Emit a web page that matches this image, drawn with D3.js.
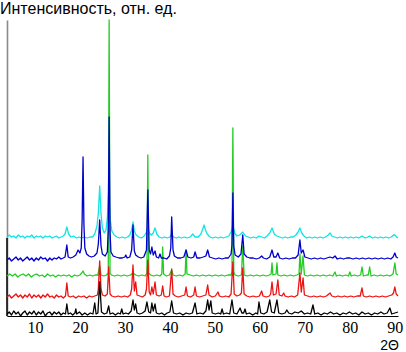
<!DOCTYPE html>
<html><head><meta charset="utf-8">
<script src="https://cdn.jsdelivr.net/npm/d3@7"></script>
<style>body{margin:0;background:#fff}svg{display:block}</style>
</head><body><svg id="c" width="406" height="352"></svg>
<script>
// ---- data (2θ, intensity relative to the curve's own baseline) ----
const xTicks = [10, 20, 30, 40, 50, 60, 70, 80, 90];
const yTitle = "Интенсивность, отн. ед.";
const xTitle = "2Θ";
const seriesOrder = ["cyan", "green", "blue", "red", "black"];
const seriesOffsets = [78, 40, 56, 19, 2];

const blackSeries = [[3.8,0],[4.3,2],[4.8,-1],[5.3,3],[5.8,0],[6.3,2],[6.8,-2],[7.3,1],[7.8,3],[8.3,-1],[8.8,2],[9.3,0],[9.8,3],[10.3,-1],[10.8,2],[11.3,0],[11.8,3],[12.3,-2],[12.8,1],[13.3,2],[13.8,-1],[14.3,2],[14.8,0],[15.3,2],[15.8,-1],[16.3,1],[16.8,0],[17.1,10],[17.4,0],[17.9,1],[18.4,-1],[18.9,1],[19.1,5],[19.3,0],[19.9,2],[20.5,-1],[21.1,1],[21.7,-1],[22.3,1],[22.9,0],[23.3,11],[23.6,0],[24.0,1],[24.4,32],[24.8,2],[25.4,0],[26.0,1],[26.4,8],[26.7,0],[27.3,1],[27.9,-1],[28.5,1],[29.0,0],[29.3,5],[29.6,0],[30.2,1],[30.8,0],[31.4,3],[31.8,14],[32.1,4],[32.4,10],[32.7,1],[33.3,0],[33.9,1],[34.5,3],[34.9,12],[35.3,2],[35.7,1],[36.0,11],[36.3,3],[36.7,10],[37.0,1],[37.6,0],[38.2,1],[38.8,-1],[39.4,1],[40.0,2],[40.4,13],[40.8,1],[41.5,0],[42.2,1],[42.9,-1],[43.6,1],[44.3,0],[45.0,1],[45.6,11],[46.0,0],[46.7,1],[47.4,0],[48.0,3],[48.4,14],[48.7,4],[49.1,13],[49.4,1],[50.1,0],[50.8,1],[51.3,0],[51.6,5],[51.9,0],[52.6,1],[53.3,0],[53.8,14],[54.2,1],[54.9,0],[55.6,6],[56.0,1],[56.4,1],[56.7,5],[57.0,0],[57.7,1],[58.4,-1],[59.1,1],[59.5,0],[59.8,12],[60.2,1],[60.9,0],[61.6,2],[62.2,14],[62.6,2],[63.2,1],[63.8,14],[64.2,1],[64.9,0],[65.6,1],[66.0,4],[66.4,1],[67.1,0],[67.8,2],[68.5,1],[69.2,3],[69.9,0],[70.6,1],[71.3,0],[71.8,9],[72.2,0],[72.9,1],[73.6,-1],[74.3,1],[75.0,0],[75.7,2],[76.4,0],[77.1,1],[77.8,-1],[78.5,1],[79.2,0],[79.9,2],[80.6,0],[81.3,1],[82.0,-1],[82.7,2],[83.4,0],[84.1,1],[84.8,-1],[85.5,1],[86.2,0],[86.9,2],[87.6,0],[88.3,1],[88.9,6],[89.3,0],[90.0,1],[90.7,2]];

const redSeries = [[3.8,0],[4.3,2],[4.8,-1],[5.3,1],[5.8,3],[6.3,0],[6.8,2],[7.3,-1],[7.8,2],[8.3,0],[8.8,3],[9.3,-1],[9.8,2],[10.3,0],[10.8,2],[11.3,-1],[11.8,2],[12.3,0],[12.8,3],[13.3,0],[13.8,1],[14.3,-1],[14.8,2],[15.3,0],[15.8,1],[16.3,-1],[16.8,1],[17.1,14],[17.4,1],[17.9,0],[18.5,1],[19.1,-1],[19.7,1],[20.3,0],[20.9,1],[21.5,-1],[22.1,1],[22.7,0],[23.3,1],[23.9,2],[24.1,8],[24.4,36],[24.7,8],[25.0,2],[25.6,1],[26.1,3],[26.4,30],[26.7,3],[27.1,1],[27.8,0],[28.5,1],[29.2,0],[29.9,1],[30.6,0],[31.2,2],[31.5,8],[31.8,32],[32.1,6],[32.4,15],[32.7,2],[33.3,1],[33.9,0],[34.5,2],[34.8,8],[35.1,37],[35.4,5],[35.7,2],[36.0,10],[36.3,3],[36.7,15],[37.0,2],[37.6,1],[38.1,2],[38.4,11],[38.7,1],[39.3,0],[39.9,1],[40.4,28],[40.7,3],[41.2,1],[41.9,0],[42.6,1],[43.3,2],[43.6,10],[43.9,1],[44.6,0],[45.3,2],[45.6,10],[45.9,1],[46.6,0],[47.3,1],[48.0,2],[48.4,12],[48.7,2],[49.4,0],[50.1,1],[50.7,5],[51.0,1],[51.7,0],[52.4,1],[53.1,0],[53.6,3],[54.0,35],[54.3,3],[54.9,1],[55.5,2],[55.9,4],[56.2,29],[56.5,3],[57.1,1],[57.8,0],[58.5,1],[59.2,0],[59.9,1],[60.4,6],[60.7,1],[61.4,0],[62.1,1],[62.4,3],[62.7,15],[63.0,2],[63.6,3],[64.0,17],[64.3,2],[64.9,1],[65.3,4],[65.6,1],[66.3,0],[67.0,1],[67.7,0],[68.4,2],[68.9,24],[69.2,5],[69.6,19],[69.9,2],[70.6,1],[71.3,0],[72.0,1],[72.7,0],[73.4,1],[74.1,0],[74.8,1],[75.6,4],[76.0,1],[76.7,0],[77.4,1],[78.1,0],[78.8,1],[79.5,0],[80.2,1],[80.9,0],[81.6,1],[82.3,1],[82.7,9],[83.0,1],[83.7,0],[84.4,1],[85.1,0],[85.8,1],[86.5,0],[87.2,1],[87.9,0],[88.6,1],[89.3,2],[89.7,4],[90.0,10],[90.3,3],[90.7,1]];

const greenSeries = [[3.8,0],[4.4,2],[5.0,0],[5.6,2],[6.2,-1],[6.8,1],[7.4,2],[8.0,0],[8.6,2],[9.2,-1],[9.8,1],[10.4,2],[11.0,0],[11.6,1],[12.2,-1],[12.8,2],[13.4,0],[14.0,1],[14.6,-1],[15.2,1],[15.8,0],[16.4,1],[17.0,0],[17.6,1],[18.2,-1],[18.8,1],[19.4,0],[20.0,1],[20.4,3],[20.7,5],[21.0,2],[21.6,0],[22.2,1],[22.8,0],[23.4,1],[24.0,1],[24.4,10],[24.7,1],[25.3,0],[25.9,1],[26.3,3],[26.5,256],[26.7,3],[27.0,1],[27.7,0],[28.4,1],[29.1,0],[29.8,1],[30.5,0],[31.2,1],[31.8,3],[32.4,1],[33.1,0],[33.8,1],[34.5,0],[34.9,3],[35.1,121],[35.3,3],[35.7,1],[36.4,0],[37.1,1],[37.8,0],[38.2,2],[38.4,29],[38.6,2],[39.2,0],[39.9,1],[40.4,6],[40.7,1],[41.4,0],[42.1,1],[42.8,0],[43.4,2],[43.6,26],[43.8,2],[44.5,1],[45.2,0],[45.9,1],[46.6,0],[47.3,1],[48.0,0],[48.7,1],[49.4,0],[50.1,1],[50.8,0],[51.5,1],[52.2,0],[52.9,1],[53.6,1],[53.8,4],[54.0,148],[54.2,4],[54.5,1],[55.2,0],[55.9,1],[56.2,30],[56.5,1],[57.2,0],[57.9,1],[58.6,0],[59.3,1],[60.0,0],[60.7,1],[61.4,0],[62.1,1],[62.5,2],[62.7,13],[62.9,1],[63.6,2],[63.8,13],[64.0,1],[64.7,0],[65.4,1],[66.1,0],[66.8,1],[67.5,0],[68.2,1],[68.7,2],[68.9,22],[69.2,2],[69.6,20],[69.9,1],[70.6,0],[71.3,1],[72.0,0],[72.7,1],[73.4,0],[74.1,1],[74.8,0],[75.5,1],[76.2,0],[76.7,4],[77.0,0],[77.7,1],[78.4,0],[79.1,1],[79.7,0],[80.0,4],[80.3,0],[81.0,1],[81.7,0],[82.4,1],[82.7,9],[83.0,0],[83.7,1],[84.1,1],[84.4,9],[84.7,0],[85.4,1],[86.1,0],[86.8,1],[87.5,0],[88.2,1],[88.9,0],[89.6,2],[90.0,13],[90.3,2],[90.7,1]];

const blueSeries = [[3.8,0],[4.3,2],[4.8,-1],[5.3,1],[5.8,3],[6.3,0],[6.8,2],[7.3,-1],[7.8,1],[8.3,3],[8.8,0],[9.3,2],[9.8,-1],[10.3,2],[10.8,0],[11.3,3],[11.8,1],[12.3,2],[12.8,-1],[13.3,2],[13.8,0],[14.3,2],[14.8,1],[15.3,3],[15.8,1],[16.3,2],[16.7,3],[17.1,15],[17.4,3],[17.9,2],[18.5,3],[19.1,5],[19.6,10],[20.0,7],[20.3,12],[20.5,40],[20.7,103],[20.9,35],[21.1,12],[21.5,6],[22.0,4],[22.6,3],[23.2,4],[23.8,7],[24.1,16],[24.4,40],[24.7,14],[25.0,6],[25.6,4],[26.1,8],[26.3,30],[26.5,143],[26.7,28],[26.9,8],[27.4,4],[28.0,3],[28.7,2],[29.4,2],[30.0,3],[30.2,5],[30.5,2],[31.1,3],[31.5,10],[31.8,35],[32.1,9],[32.4,5],[33.0,3],[33.6,2],[34.2,3],[34.8,10],[35.1,70],[35.4,10],[35.7,6],[36.0,13],[36.3,5],[36.7,9],[37.0,3],[37.5,2],[37.8,6],[38.1,2],[38.7,2],[39.3,1],[39.9,4],[40.2,12],[40.4,43],[40.7,10],[41.0,4],[41.7,2],[42.4,2],[43.1,3],[43.6,10],[44.0,3],[44.7,2],[45.3,3],[45.6,8],[46.0,2],[46.7,2],[47.4,3],[48.0,4],[48.4,10],[48.8,3],[49.5,2],[50.2,1],[50.9,2],[51.6,1],[52.3,2],[53.0,2],[53.6,6],[53.8,15],[54.0,67],[54.2,14],[54.5,5],[55.2,3],[55.8,6],[56.2,25],[56.5,6],[57.1,3],[57.8,2],[58.5,2],[59.2,1],[59.9,2],[60.4,4],[60.8,2],[61.5,1],[62.2,3],[62.7,10],[63.1,3],[63.6,3],[64.0,7],[64.4,2],[65.1,1],[65.8,2],[66.5,1],[67.2,2],[67.9,2],[68.5,5],[68.9,20],[69.2,7],[69.6,10],[70.0,3],[70.7,2],[71.4,1],[72.1,2],[72.8,1],[73.5,2],[74.2,1],[74.9,2],[75.6,3],[76.2,2],[76.7,4],[77.2,1],[77.9,2],[78.6,1],[79.3,2],[80.0,2],[80.7,1],[81.4,2],[82.1,1],[82.8,2],[83.5,1],[84.2,2],[84.9,1],[85.6,2],[86.3,1],[87.0,2],[87.7,1],[88.4,2],[89.1,1],[89.6,3],[90.0,7],[90.3,3],[90.7,2]];

const cyanSeries = [[3.8,1],[4.3,3],[4.8,1],[5.3,2],[5.8,0],[6.3,3],[6.8,1],[7.3,2],[7.8,0],[8.3,2],[8.8,1],[9.3,3],[9.8,0],[10.3,2],[10.8,1],[11.3,2],[11.8,0],[12.3,2],[12.8,1],[13.3,2],[13.8,0],[14.3,1],[14.8,2],[15.3,0],[15.8,1],[16.3,2],[16.7,4],[17.1,11],[17.5,4],[18.0,1],[18.6,2],[19.2,0],[19.8,1],[20.4,0],[21.0,1],[21.6,0],[22.2,1],[22.8,1],[23.3,4],[23.8,12],[24.1,25],[24.4,52],[24.7,24],[25.0,10],[25.4,5],[25.8,8],[26.1,20],[26.4,48],[26.7,20],[27.1,7],[27.6,3],[28.2,1],[28.8,0],[29.4,1],[30.0,0],[30.6,1],[31.1,3],[31.5,8],[31.8,16],[32.1,7],[32.5,3],[33.1,1],[33.7,0],[34.3,2],[34.8,6],[35.1,12],[35.4,5],[35.9,3],[36.3,5],[36.7,10],[37.1,4],[37.6,1],[38.2,0],[38.8,1],[39.4,0],[40.0,1],[40.4,4],[40.8,1],[41.4,0],[42.0,1],[42.6,0],[43.2,1],[43.8,0],[44.5,1],[45.1,4],[45.6,1],[46.3,1],[46.9,4],[47.3,9],[47.6,13],[47.9,8],[48.3,4],[48.9,1],[49.5,0],[50.1,1],[50.7,0],[51.3,1],[51.9,0],[52.5,1],[53.1,2],[53.6,6],[54.0,12],[54.4,5],[54.9,2],[55.5,3],[56.2,6],[56.8,2],[57.4,1],[58.0,0],[58.6,1],[59.2,0],[59.8,2],[60.4,1],[61.0,0],[61.6,2],[62.2,5],[62.7,10],[63.2,4],[63.8,2],[64.4,1],[65.0,0],[65.6,1],[66.2,0],[66.8,1],[67.4,1],[68.0,3],[68.5,6],[68.9,10],[69.3,5],[69.8,2],[70.4,0],[71.0,1],[71.6,0],[72.2,1],[72.8,0],[73.4,1],[74.0,0],[74.6,1],[75.2,3],[75.6,5],[76.0,2],[76.6,1],[77.2,0],[77.8,1],[78.4,0],[79.0,1],[79.6,0],[80.2,1],[80.8,0],[81.4,1],[82.0,0],[82.7,2],[83.4,0],[84.0,1],[84.4,2],[85.0,0],[85.6,1],[86.2,0],[86.8,1],[87.4,0],[88.0,1],[88.6,0],[89.2,1],[89.7,3],[90.0,3],[90.4,1],[90.7,0]];

// ---- drawing ----
const seriesData = {cyan: cyanSeries, green: greenSeries, blue: blueSeries, red: redSeries, black: blackSeries};
const colors = {cyan: "#10e4e4", green: "#22cc22", blue: "#0000cc", red: "#ee1111", black: "#000000"};

const svg = d3.select("#c");
const x = d3.scaleLinear().domain([3.8, 90.7]).range([7, 398]);
const y = d3.scaleLinear().domain([0, 296]).range([316, 20]);

// y axis (no ticks)
const yAxisG = svg.append("g").attr("transform", "translate(7,0)")
  .call(d3.axisLeft(y).tickValues([]).tickSizeOuter(0));
yAxisG.select(".domain").attr("stroke", "#8a8a8a").attr("stroke-width", 1.6);
svg.append("line")
  .attr("x1", x(3.8)).attr("x2", x(3.8))
  .attr("y1", y(0)).attr("y2", y(seriesOffsets[0]))
  .attr("stroke", "#111").attr("stroke-width", 1.6);

const line = d3.line().x(d => x(d[0])).y(d => y(d[1]));
seriesOrder.forEach((name, i) => {
  const off = seriesOffsets[i];
  svg.append("path")
    .datum(seriesData[name].map(d => [d[0], d[1] + off]))
    .attr("fill", "none")
    .attr("stroke", colors[name])
    .attr("stroke-width", 1.3)
    .attr("stroke-linejoin", "round")
    .attr("d", line);
});

// x axis
const xAxisG = svg.append("g").attr("transform", `translate(0,${y(0)})`)
  .call(d3.axisBottom(x).tickValues(xTicks).tickSize(0).tickPadding(6).tickFormat(d3.format("d")));
xAxisG.select(".domain").attr("stroke", "#000").attr("stroke-width", 1);
xAxisG.selectAll("text")
  .attr("font-family", "'Liberation Serif', 'Times New Roman', serif")
  .attr("font-size", 16).attr("fill", "#000");

svg.append("text").attr("x", 0).attr("y", 14)
  .attr("font-family", "'Liberation Sans', Arial, sans-serif").attr("font-size", 16)
  .attr("fill", "#000").text(yTitle);
svg.append("text").attr("x", 399).attr("y", 350).attr("text-anchor", "end")
  .attr("font-family", "'Liberation Sans', Arial, sans-serif").attr("font-size", 14)
  .attr("fill", "#000").text(xTitle);
</script>
</body></html>
